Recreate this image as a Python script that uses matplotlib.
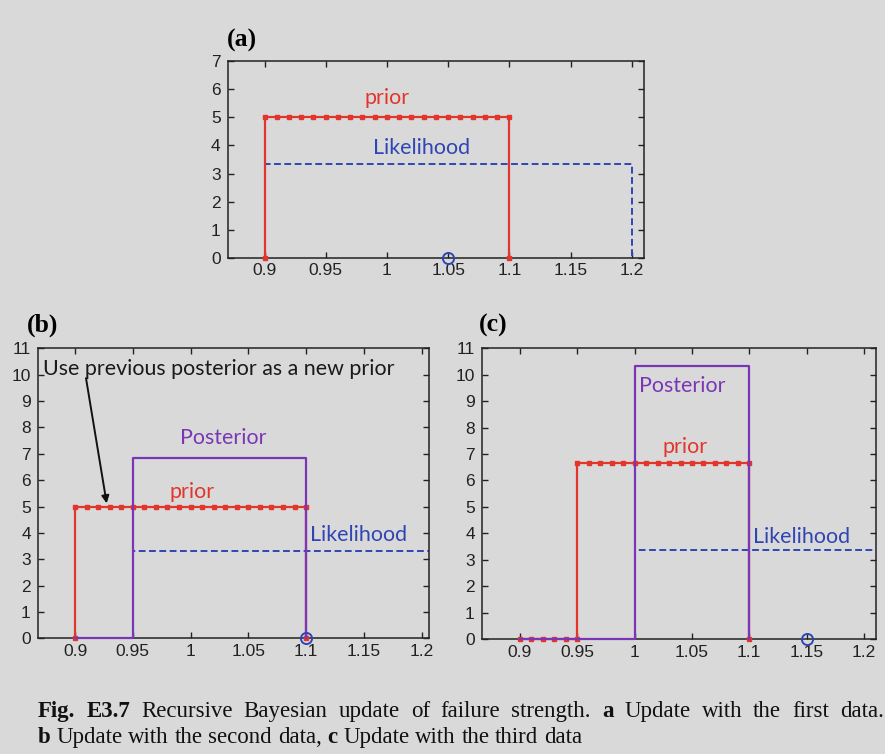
import matplotlib
matplotlib.use("Agg")
import matplotlib.pyplot as plt

# ---------------------------------------------------------------- data
xticks = [0.9, 0.95, 1.0, 1.05, 1.1, 1.15, 1.2]
xtick_labels = ["0.9", "0.95", "1", "1.05", "1.1", "1.15", "1.2"]

# (a) prior: uniform on [0.9, 1.1], discretised every 0.01
prior_a_x = [0.90, 0.90, 0.91, 0.92, 0.93, 0.94, 0.95, 0.96, 0.97, 0.98, 0.99, 1.00,
             1.01, 1.02, 1.03, 1.04, 1.05, 1.06, 1.07, 1.08, 1.09, 1.10, 1.10]
prior_a_y = [0, 5, 5, 5, 5, 5, 5, 5, 5, 5, 5, 5,
             5, 5, 5, 5, 5, 5, 5, 5, 5, 5, 0]
like_a_x = [0.90, 0.90, 1.20, 1.20]
like_a_y = [0, 3.33, 3.33, 0]
data_a = 1.05

# (b) previous posterior used as the new prior
prior_b_x = prior_a_x
prior_b_y = prior_a_y
like_b_x = [0.95, 0.95, 1.25]
like_b_y = [0, 3.33, 3.33]
post_b_x = [0.90, 0.95, 0.95, 1.10, 1.10]
post_b_y = [0, 0, 6.85, 6.85, 0]
data_b = 1.10

# (c)
prior_c_x = [0.90, 0.91, 0.92, 0.93, 0.94, 0.95, 0.95, 0.96, 0.97, 0.98, 0.99, 1.00,
             1.01, 1.02, 1.03, 1.04, 1.05, 1.06, 1.07, 1.08, 1.09, 1.10, 1.10]
prior_c_y = [0, 0, 0, 0, 0, 0, 6.67, 6.67, 6.67, 6.67, 6.67, 6.67,
             6.67, 6.67, 6.67, 6.67, 6.67, 6.67, 6.67, 6.67, 6.67, 6.67, 0]
like_c_x = [1.00, 1.00, 1.25]
like_c_y = [0, 3.35, 3.35]
post_c_x = [0.90, 1.00, 1.00, 1.10, 1.10]
post_c_y = [0, 0, 10.35, 10.35, 0]
data_c = 1.15

# ---------------------------------------------------------------- style
BG = "#d9d9d9"
RED = "#e2352c"
BLUE = "#2f45b3"
PURPLE = "#7a36b6"
TICK_FONT = "Liberation Sans"
LABEL_FONT = "Lato"
SERIF = "Liberation Serif"
LABEL_SIZE = 15.4

W, H = 885, 754
fig = plt.figure(figsize=(W / 100, H / 100), dpi=100, facecolor=BG)


def make_axes(rect, xlim, ylim, yticks):
    ax = fig.add_axes(rect, facecolor=BG)
    ax.set_xlim(*xlim)
    ax.set_ylim(*ylim)
    ax.set_xticks(xticks)
    ax.set_xticklabels(xtick_labels)
    ax.set_yticks(yticks)
    ax.tick_params(direction="in", top=True, right=True, length=4, width=1,
                   color="#222222", labelsize=12.5, labelcolor="#222222")
    ax.tick_params(axis="x", pad=4)
    ax.tick_params(axis="y", pad=5)
    for lab in ax.get_xticklabels() + ax.get_yticklabels():
        lab.set_fontfamily(TICK_FONT)
    for s in ax.spines.values():
        s.set_linewidth(1.1)
        s.set_color("#222222")
    return ax


def draw_prior(ax, x, y):
    ax.plot(x, y, color=RED, lw=1.6, marker="s", ms=3.4, mec=RED, mfc=RED,
            clip_on=False, zorder=3)


def draw_like(ax, x, y):
    ax.plot(x, y, color=BLUE, lw=1.4, ls=(0, (3.5, 1.8)), zorder=2)


def draw_post(ax, x, y):
    ax.plot(x, y, color=PURPLE, lw=1.6, zorder=4, clip_on=False)


def draw_data(ax, x):
    ax.plot([x], [0], ls="none", marker="o", ms=8, mfc="none", mec=BLUE,
            mew=1.4, clip_on=False, zorder=5)


def label(ax, x, y, s, color):
    ax.text(x, y, s, color=color, fontsize=LABEL_SIZE, family=LABEL_FONT,
            ha="center", va="center")


def panel_tag(x_px, y_px, s):
    fig.text(x_px / W, 1 - y_px / H, s, family=SERIF, weight="bold",
             fontsize=18.5, va="center", ha="left")


# ---------------------------------------------------------------- panel (a)
ax_a = make_axes([0.2571, 0.6582, 0.4710, 0.2605], (0.8698, 1.2103), (0, 7),
                 range(0, 8))
draw_like(ax_a, like_a_x, like_a_y)
draw_prior(ax_a, prior_a_x, prior_a_y)
draw_data(ax_a, data_a)
label(ax_a, 1.0005, 5.69, "prior", RED)
label(ax_a, 1.028, 3.91, "Likelihood", BLUE)
panel_tag(227, 40, "(a)")

# ---------------------------------------------------------------- panel (b)
ax_b = make_axes([0.0426, 0.1534, 0.4421, 0.3846], (0.8677, 1.2063), (0, 11),
                 range(0, 12))
draw_like(ax_b, like_b_x, like_b_y)
draw_prior(ax_b, prior_b_x, prior_b_y)
draw_post(ax_b, post_b_x, post_b_y)
draw_data(ax_b, data_b)
label(ax_b, 1.028, 7.61, "Posterior", PURPLE)
label(ax_b, 1.001, 5.56, "prior", RED)
label(ax_b, 1.145, 3.92, "Likelihood", BLUE)
ax_b.text(0.8723, 10.2, "Use previous posterior as a new prior", color="#1a1a1a",
          fontsize=LABEL_SIZE, family=LABEL_FONT, ha="left", va="center")
ax_b.annotate("", xy=(0.9274, 5.12), xytext=(0.9095, 9.87),
              arrowprops=dict(arrowstyle="-|>", color="#111111", lw=1.4,
                              mutation_scale=11, shrinkA=0, shrinkB=0),
              zorder=6)
panel_tag(27, 325, "(b)")

# ---------------------------------------------------------------- panel (c)
ax_c = make_axes([0.5443, 0.1525, 0.4455, 0.3855], (0.8666, 1.2105), (0, 11),
                 range(0, 12))
draw_like(ax_c, like_c_x, like_c_y)
draw_prior(ax_c, prior_c_x, prior_c_y)
draw_post(ax_c, post_c_x, post_c_y)
draw_data(ax_c, data_c)
label(ax_c, 1.0415, 9.57, "Posterior", PURPLE)
label(ax_c, 1.044, 7.28, "prior", RED)
label(ax_c, 1.146, 3.87, "Likelihood", BLUE)
panel_tag(479, 325, "(c)")

# ---------------------------------------------------------------- caption
CAP_SIZE = 16.5
renderer = fig.canvas.get_renderer()


def caption_line(tokens, x0, y_px, x1=None):
    texts, widths = [], []
    for word, bold in tokens:
        t = fig.text(0, 1 - y_px / H, word, family=SERIF, fontsize=CAP_SIZE,
                     weight="bold" if bold else "normal", color="#111111",
                     ha="left", va="baseline")
        texts.append(t)
        widths.append(t.get_window_extent(renderer=renderer).width)
    if x1 is None:
        gap = CAP_SIZE * 100 / 72 * 0.25
    else:
        gap = (x1 - x0 - sum(widths)) / (len(tokens) - 1)
    x = x0
    for t, w in zip(texts, widths):
        t.set_x(x / W)
        x += w + gap


line1 = [("Fig.", True), ("E3.7", True), ("Recursive", False), ("Bayesian", False),
         ("update", False), ("of", False), ("failure", False), ("strength.", False),
         ("a", True), ("Update", False), ("with", False), ("the", False),
         ("first", False), ("data.", False)]
line2 = [("b", True), ("Update", False), ("with", False), ("the", False),
         ("second", False), ("data,", False), ("c", True), ("Update", False),
         ("with", False), ("the", False), ("third", False), ("data", False)]
caption_line(line1, 38, 717, 884)
caption_line(line2, 38, 743)

fig.savefig("out.png", dpi=100, facecolor=BG)
